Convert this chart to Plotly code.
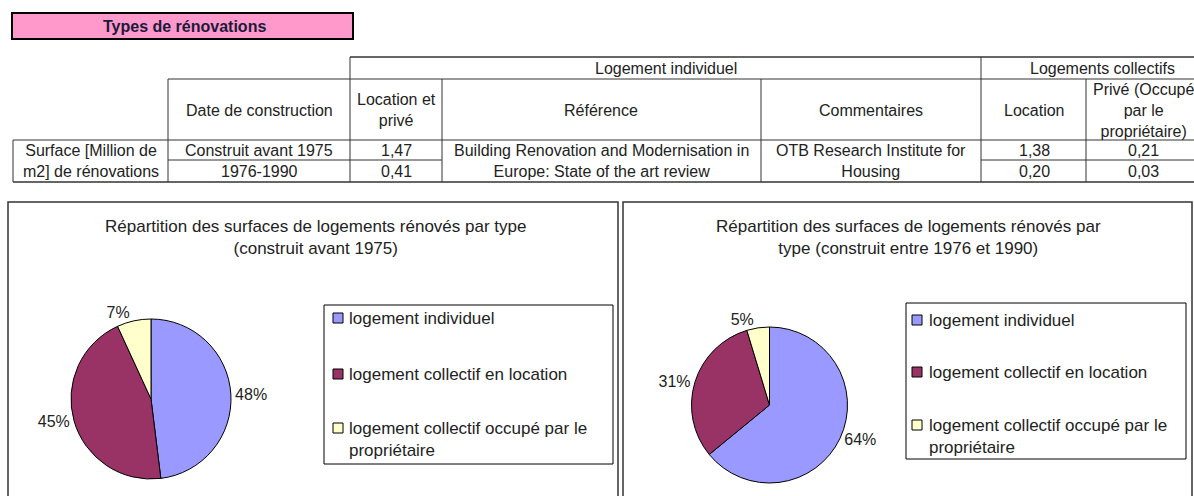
import plotly.graph_objects as go

W, H = 1194, 496

# Surfaces rénovées [million de m2], par période de construction
periodes = ["Construit avant 1975", "1976-1990"]
individuel = [1.47, 0.41]            # logement individuel (location et privé)
collectif_location = [1.38, 0.20]    # logements collectifs en location
collectif_prive = [0.21, 0.03]       # logements collectifs occupés par le propriétaire

types = ["logement individuel", "logement collectif en location",
         "logement collectif occupé par le<br>propriétaire"]
couleurs = ["#9999FF", "#993366", "#FFFFCC"]

titres = [
    "Répartition des surfaces de logements rénovés par type<br>(construit avant 1975)",
    "Répartition des surfaces de logements rénovés par<br>type (construit entre 1976 et 1990)",
]

reference = "Building Renovation and Modernisation in<br>Europe: State of the art review"
commentaire = "OTB Research Institute for<br>Housing"

FONT = "Liberation Sans, Arial, sans-serif"
INK = "#222222"
GRID = "#333333"


def X(px):
    return px / W


def Y(py):
    return 1 - py / H


def fmt(v):
    return f"{v:.2f}".replace(".", ",")


fig = go.Figure()
shapes = []
annotations = []


def line(x0, y0, x1, y1, color=GRID, width=1):
    shapes.append(dict(type="line", xref="paper", yref="paper",
                       x0=X(x0), y0=Y(y0), x1=X(x1), y1=Y(y1),
                       line=dict(color=color, width=width)))


def text(x, y, s, size=16, bold=False, xanchor="center", yanchor="middle", color=INK):
    if bold:
        s = f"<b>{s}</b>"
    annotations.append(dict(xref="paper", yref="paper", x=X(x), y=Y(y), text=s,
                            showarrow=False, xanchor=xanchor, yanchor=yanchor,
                            align="center" if xanchor == "center" else "left",
                            font=dict(family=FONT, size=size, color=color)))


# --- bandeau de titre -------------------------------------------------------
shapes.append(dict(type="rect", xref="paper", yref="paper",
                   x0=X(12), y0=Y(13), x1=X(353), y1=Y(39),
                   fillcolor="#FF99CC", line=dict(color="black", width=2)))
text(184, 26.5, "Types de rénovations", size=16, bold=True, color="#1a1a3a")

# --- tableau ----------------------------------------------------------------
y_top, y_head, y_data, y_mid, y_bot = 57, 79, 140, 160, 182

line(350, y_top, 1194, y_top, width=1.5)
line(168, y_head, 1194, y_head)
line(13, y_data, 1194, y_data)
line(168, y_mid, 442, y_mid)
line(981, y_mid, 1194, y_mid)
line(13, y_bot, 1194, y_bot, width=1.5)
line(13, y_data, 13, y_bot)
for cx in (168, 442, 761, 1086):
    line(cx, y_head, cx, y_bot)
for cx in (350, 981):
    line(cx, y_top, cx, y_bot)

text(666, 68, "Logement individuel")
text(1102, 68, "Logements collectifs")
text(259, 110, "Date de construction")
text(396, 110, "Location et<br>privé")
text(601, 110, "Référence")
text(871, 110, "Commentaires")
text(1034, 111, "Location")
text(1143, 110, "Privé (Occupé<br>par le<br>propriétaire)")
text(91, 161, "Surface [Million de<br>m2] de rénovations")
text(601, 161, reference)
text(871, 161, commentaire)
for row, yy in enumerate((150, 171)):
    text(259, yy, periodes[row])
    text(396, yy, fmt(individuel[row]))
    text(1034, yy, fmt(collectif_location[row]))
    text(1143, yy, fmt(collectif_prive[row]))

# --- graphiques en secteurs ---------------------------------------------------
charts = [
    dict(box=(8, 618), title_x=315, pie=(151, 399, 80),
         legend=(324, 305, 613, 464), mark_x=333, text_x=347, rows=(318, 374, 428)),
    dict(box=(623, 1192), title_x=908, pie=(769.5, 405, 78),
         legend=(906, 303, 1186, 459), mark_x=912, text_x=927, rows=(320, 372, 425)),
]

for i, c in enumerate(charts):
    x0, x1 = c["box"]
    shapes.append(dict(type="rect", xref="paper", yref="paper",
                       x0=X(x0), y0=Y(202), x1=X(x1), y1=Y(520),
                       line=dict(color=GRID, width=1.5), fillcolor="rgba(0,0,0,0)"))
    text(c["title_x"], 237.5, titres[i], size=17)

    cx, cy, r = c["pie"]
    values = [individuel[i], collectif_location[i], collectif_prive[i]]
    fig.add_trace(go.Pie(
        values=values,
        labels=[t.replace("<br>", " ") for t in types],
        marker=dict(colors=couleurs, line=dict(color="black", width=1)),
        sort=False, direction="clockwise", rotation=0,
        texttemplate="%{percent:.0%}", textposition="outside",
        outsidetextfont=dict(family=FONT, size=16, color=INK),
        domain=dict(x=[X(cx - r), X(cx + r)], y=[Y(cy + r), Y(cy - r)]),
        showlegend=False, hoverinfo="label+value+percent",
    ))

    lx0, ly0, lx1, ly1 = c["legend"]
    shapes.append(dict(type="rect", xref="paper", yref="paper",
                       x0=X(lx0), y0=Y(ly0), x1=X(lx1), y1=Y(ly1),
                       line=dict(color="black", width=1), fillcolor="white", layer="below"))
    for k, yy in enumerate(c["rows"]):
        mx = c["mark_x"]
        shapes.append(dict(type="rect", xref="paper", yref="paper",
                           x0=X(mx), y0=Y(yy - 5), x1=X(mx + 10), y1=Y(yy + 5),
                           fillcolor=couleurs[k], line=dict(color="black", width=1)))
        text(c["text_x"], yy - 11, types[k], size=17, xanchor="left", yanchor="top")

fig.update_layout(
    width=W, height=H,
    margin=dict(l=0, r=0, t=0, b=0),
    paper_bgcolor="white", plot_bgcolor="white",
    shapes=shapes, annotations=annotations,
    font=dict(family=FONT, color=INK),
)

fig.write_html("out.html")
